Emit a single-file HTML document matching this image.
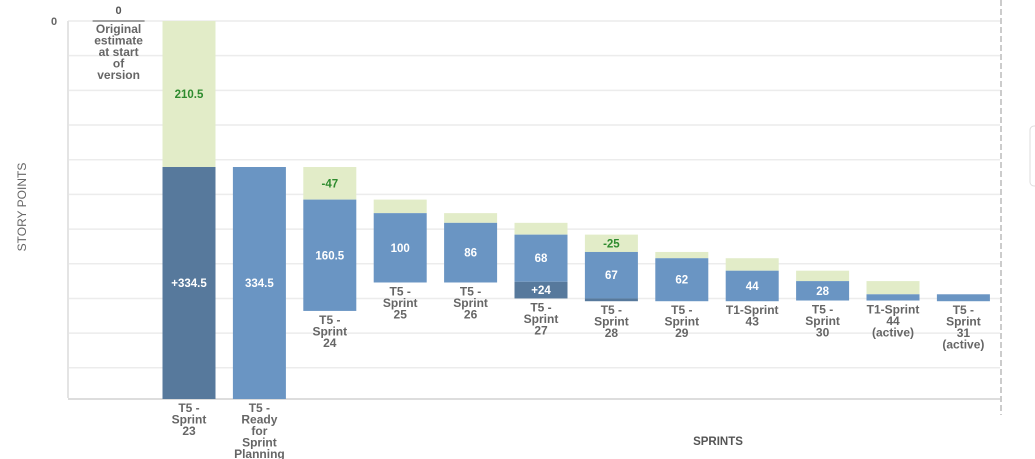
<!DOCTYPE html>
<html><head><meta charset="utf-8"><style>
html,body{margin:0;padding:0;background:#fff;overflow:hidden}
svg{display:block;font-family:"Liberation Sans",Arial,sans-serif}
</style></head><body>
<svg id="chart" width="1035" height="459">
<text x="26" y="207" transform="rotate(-90 26 207)" text-anchor="middle" font-size="12" fill="#666">STORY POINTS</text>
<text x="718" y="445" text-anchor="middle" font-size="11.5" font-weight="bold" fill="#555">SPRINTS</text>
<text x="54" y="25" text-anchor="middle" font-size="11" font-weight="bold" fill="#666">0</text>
<line x1="1001" y1="0" x2="1001" y2="415" stroke="#bbb" stroke-width="1.5" stroke-dasharray="6,3"/>
<rect x="1030" y="126" width="10" height="60" rx="4" fill="none" stroke="#ddd"/>
<g id="grid"></g><g id="bars"></g>
</svg>
<script>
const categories = [["Original","estimate","at start","of","version"],["T5 -","Sprint","23"],["T5 -","Ready","for","Sprint","Planning"],["T5 -","Sprint","24"],["T5 -","Sprint","25"],["T5 -","Sprint","26"],["T5 -","Sprint","27"],["T5 -","Sprint","28"],["T5 -","Sprint","29"],["T1-Sprint","43"],["T5 -","Sprint","30"],["T1-Sprint","44","(active)"],["T5 -","Sprint","31","(active)"]];
// segments as [start, end] in story points from top (0)
const greenSeg = [null,[0,210.5],null,[210.5,257.5],[257.5,277],[277,291],[291,308],[308,333],[333,342],[342,360],[360,375],[375,394],null];
const greenLabel = ["","210.5","","-47","","","","-25","","","","",""];
const blueSeg = [null,null,[210.5,545],[257.5,418],[277,377],[291,377],[308,376],[333,400],[342,404],[360,404],[375,403],[394,403],[394,404]];
const blueLabel = ["","","334.5","160.5","100","86","68","67","62","44","28","",""];
const darkSeg = [null,[210.5,545],null,null,null,null,[376,400],[400,404],null,null,null,null,null];
const darkLabel = ["","+334.5","","","","","+24","","","","","",""];
const gridTicks = [0,50,100,150,200,250,300,350,400,450,500,545];

const NS="http://www.w3.org/2000/svg";
const top0=21, k=0.6936, x0=118.6, step=70.4, bw=53;
const yS=v=>top0+v*k, xC=i=>x0+i*step;
function mk(tag,attrs,parent){const e=document.createElementNS(NS,tag);for(const a in attrs)e.setAttribute(a,attrs[a]);parent.appendChild(e);return e;}
const grid=document.getElementById('grid'), bars=document.getElementById('bars');
gridTicks.forEach((t,i)=>{
  const l=mk('line',{x1:68,x2:1000,y1:yS(t),y2:yS(t),stroke:i==gridTicks.length-1?'#ddd':'#ececec','stroke-width':i==gridTicks.length-1?2:1.5},grid);
  
  
});
const ax=mk('line',{x1:68,x2:68,y1:21,y2:398,stroke:'#e4e4e4','stroke-width':2},grid);


const o=mk('line',{x1:xC(0)-26,x2:xC(0)+26,y1:top0,y2:top0,stroke:'#888','stroke-width':1.5},bars);


const ot=mk('text',{x:xC(0),y:14,'text-anchor':'middle','font-size':11,'font-weight':'bold',fill:'#555'},bars);ot.textContent='0';


function seg(i,s,color,label,lc,name){
  if(!s)return;
  const y1=yS(s[0]),y2=yS(s[1]);
  const r=mk('rect',{x:xC(i)-bw/2,y:y1,width:bw,height:Math.max(y2-y1,1.5),fill:color},bars);
  
  
  if(label){const t=mk('text',{x:xC(i),y:(y1+y2)/2+4,'text-anchor':'middle','font-size':11.5,'font-weight':'bold',fill:lc},bars);t.textContent=label;
    
    }
}
categories.forEach((c,i)=>{
  seg(i,greenSeg[i],'#e2ecc8',greenLabel[i],'#2e8b2e','added-scope-bar');
  seg(i,blueSeg[i],'#6a95c3',blueLabel[i],'#fff','remaining-bar');
  seg(i,darkSeg[i],'#57799c',darkLabel[i],'#fff','completed-bar');
  let bottom=0;[greenSeg[i],blueSeg[i],darkSeg[i]].forEach(s=>{if(s)bottom=Math.max(bottom,s[1]);});
  let yb=i==0?top0+2:yS(bottom)+3;
  const t=mk('text',{'text-anchor':'middle','font-size':12,'font-weight':'bold',fill:'#666'},bars);
  
  
  c.forEach((ln,j)=>{const ts=mk('tspan',{x:xC(i),y:yb+10+j*11.5},t);ts.textContent=ln;});
});
</script>
</body></html>
